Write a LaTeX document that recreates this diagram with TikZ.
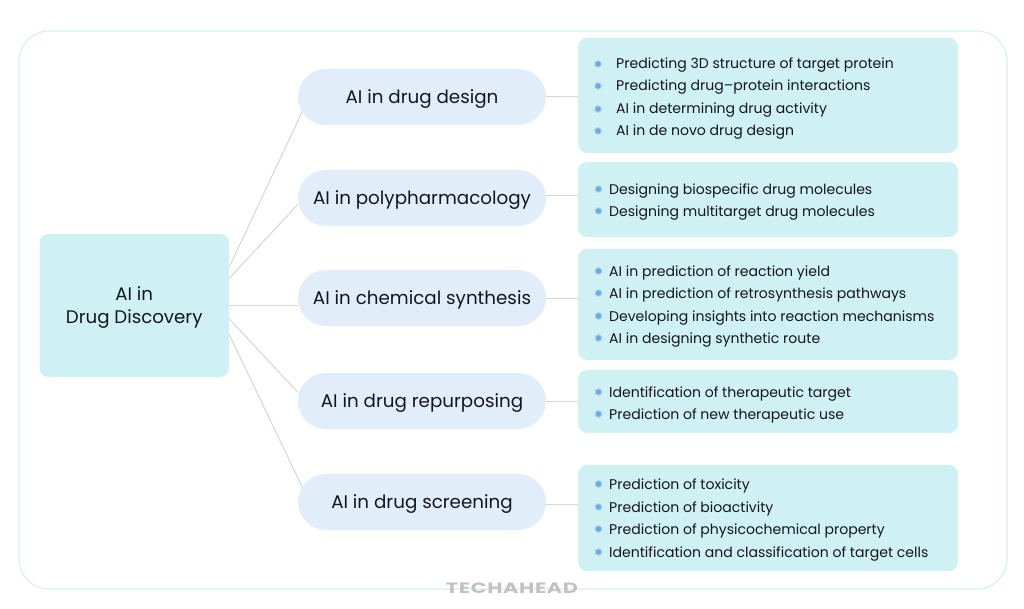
\documentclass[tikz,border=0pt]{standalone}
\usepackage{fontspec}
\setmainfont{Poppins}
\newfontfamily\logofont[LetterSpace=3]{Poppins}
\usetikzlibrary{backgrounds}
\definecolor{boxcyan}{HTML}{CFF1F3}
\definecolor{pillblue}{HTML}{E1EEFA}
\definecolor{framecyan}{HTML}{D6EFF2}
\definecolor{linkgrey}{HTML}{D5D5D5}
\definecolor{inkdark}{HTML}{14161F}
\definecolor{dotblue}{HTML}{6FA9E3}
\newcommand{\baisse}[1]{\raisebox{-2.2pt}[\height][\depth]{#1}}
\begin{document}
\begin{tikzpicture}[
    x=1pt,y=-1pt,
    racine/.style={
      fill=boxcyan,
      rounded corners=9pt,
      minimum width=189.5pt,
      minimum height=143pt,
      align=center,
      text=inkdark,
      font=\fontsize{18.2}{22.5}\selectfont
    },
    branche/.style={
      fill=pillblue,
      rounded corners=27.9pt,
      minimum width=248pt,
      minimum height=56pt,
      text=inkdark,
      font=\fontsize{18.3}{22}\selectfont
    },
    detail/.style={
      fill=boxcyan,
      rounded corners=9pt,
      minimum width=380pt
    },
    item/.style={
      anchor=west,
      inner sep=0pt,
      yshift=-1.8pt,
      text=inkdark,
      font=\fontsize{14.05}{16}\selectfont
    },
    puce/.style={
      circle,
      fill=dotblue,
      draw=dotblue!60,
      line width=0.9pt,
      inner sep=0pt,
      minimum size=6.5pt
    },
    lien/.style={
      draw=linkgrey,
      line width=1pt
    }
  ]
  \useasboundingbox (0,0) rectangle (1024,609);
  \draw[framecyan, line width=1.2pt, rounded corners=30pt] (19,31) rectangle (1007,589);

  \node[racine] (root) at (134.25,305.5) {\baisse{AI in}\\\baisse{Drug Discovery}};

  \node[branche] (pill1) at (422,97) {\baisse{AI in drug design}};
  \node[branche] (pill2) at (422,198) {\baisse{AI in polypharmacology}};
  \node[branche] (pill3) at (422,298) {\baisse{AI in chemical synthesis}};
  \node[branche] (pill4) at (422,401) {\baisse{AI in drug repurposing}};
  \node[branche] (pill5) at (422,502) {\baisse{AI in drug screening}};

  \node[detail, minimum height=115pt] (box1) at (768,95.5) {};
  \node[detail, minimum height=75pt] (box2) at (768,199.5) {};
  \node[detail, minimum height=111pt] (box3) at (768,304.5) {};
  \node[detail, minimum height=63pt] (box4) at (768,401.5) {};
  \node[detail, minimum height=106pt] (box5) at (768,518) {};

  % first box has its text further in
  \foreach \n/\ypos/\txt in {
    a/63/{Predicting 3D structure of target protein},
    b/85/{Predicting drug--protein interactions},
    c/108/{AI in determining drug activity},
    d/130/{AI in de novo drug design}}{
    \node[puce] (dot\n) at (598,\ypos+1) {};
    \node[item] (txt\n) at (616,\ypos) {\txt};
  }
  \foreach \n/\ypos/\txt in {
    e/189/{Designing biospecific drug molecules},
    f/211/{Designing multitarget drug molecules},
    g/271/{AI in prediction of reaction yield},
    h/293/{AI in prediction of retrosynthesis pathways},
    i/316/{Developing insights into reaction mechanisms},
    j/338/{AI in designing synthetic route},
    k/392/{Identification of therapeutic target},
    l/414/{Prediction of new therapeutic use},
    m/484/{Prediction of toxicity},
    n/507/{Prediction of bioactivity},
    o/529/{Prediction of physicochemical property},
    p/552/{Identification and classification of target cells}}{
    \node[puce] (dot\n) at (598.5,\ypos) {};
    \node[item] (txt\n) at (609,\ypos) {\txt};
  }

  \begin{scope}[on background layer]
    \draw[lien, shorten >=-12pt] (root.22.6) -- (pill1.191.6);
    \draw[lien] (root.16.7) -- (pill2.183.7);
    \draw[lien] (root.east) -- (pill3.west |- root.east);
    \draw[lien] (root.-8.7) -- (pill4.176.3);
    \draw[lien, shorten >=-12pt] (root.-17.3) -- (pill5.169.7);
    \draw[lien] (pill1.0.5) -- (box1.west |- pill1.0.5);
    \draw[lien] (pill2.1.85) -- (box2.west |- pill2.1.85);
    \draw[lien] (pill3.east) -- (box3.west |- pill3.east);
    \draw[lien] (pill4.east) -- (box4.west |- pill4.east);
    \draw[lien] (pill5.-1) -- (box5.west |- pill5.-1);
  \end{scope}

  \node[text=black!24, inner sep=0pt] (logo) at (512,588) {\scalebox{1.39}[1]{\logofont\fontsize{15}{15}\selectfont\bfseries TECHAHEAD}};
\end{tikzpicture}
\end{document}
